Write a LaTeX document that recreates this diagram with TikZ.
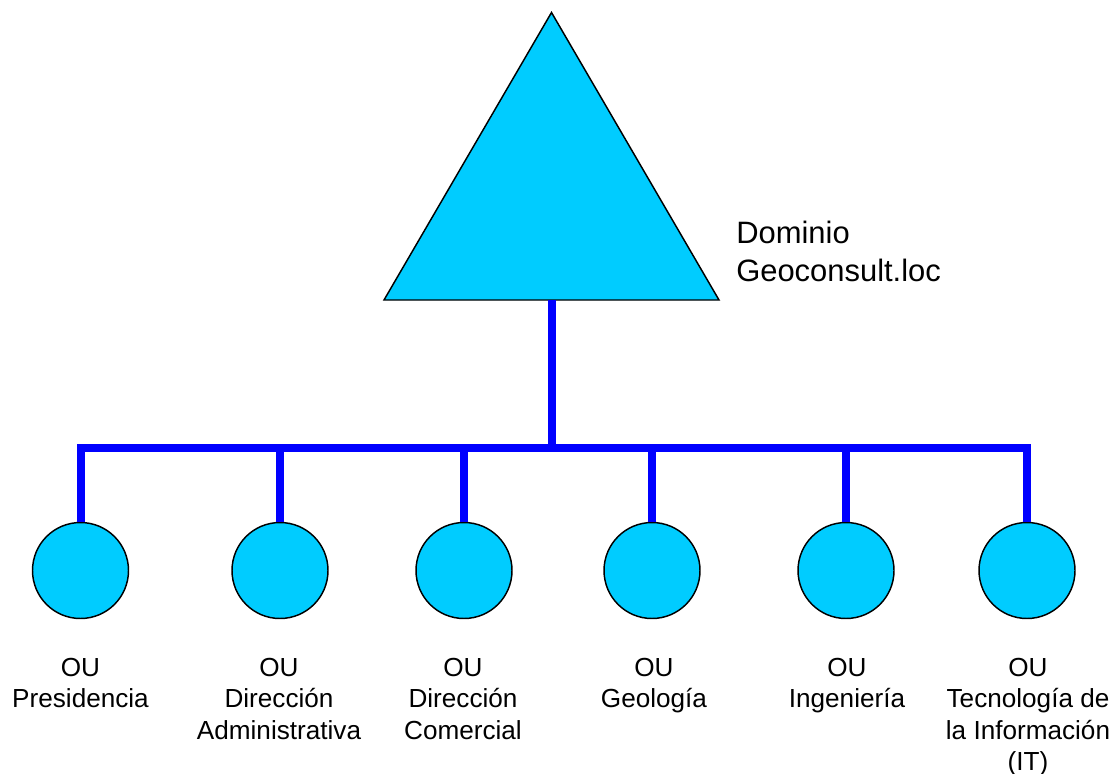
\documentclass[tikz,border=0pt]{standalone}
\usepackage{fontspec}
\setmainfont{Liberation Sans}
\definecolor{oufill}{HTML}{00CCFF}
\definecolor{busblue}{HTML}{0000FF}
\begin{document}
\begin{tikzpicture}[x=0.75pt,y=-0.75pt,
  ou/.style={circle,draw=black,fill=oufill,line width=1.1pt,minimum size=72pt,inner sep=0pt},
  bus/.style={draw=busblue,line width=6pt,line join=miter},
  oulabel/.style={anchor=north,inner sep=0pt,align=center,font=\fontsize{19.6}{23.6}\selectfont},
  domlabel/.style={anchor=north west,inner sep=0pt,align=left,font=\fontsize{23.2}{28.5}\selectfont}]
\useasboundingbox (0,0) rectangle (1117,774);
% domain triangle
\draw[fill=oufill,line width=1.1pt,line join=miter] (551.5,12.5) -- (719,300) -- (384,300) -- cycle;
\coordinate (dom) at (552,300);
\coordinate (bar) at (552,448);
\node[domlabel] (domtext) at (736,221) {Dominio\\Geoconsult.loc};
% OU circles
\node[ou] (o1) at (80.5,570.5) {};
\node[ou] (o2) at (280,570.5) {};
\node[ou] (o3) at (464,570.5) {};
\node[ou] (o4) at (652,570.5) {};
\node[ou] (o5) at (846,570.5) {};
\node[ou] (o6) at (1027,570.5) {};
% connectors
\draw[bus] (dom) -- (bar);
\draw[bus] (o1.north) -- (o1.north |- bar) -- (o6.north |- bar) -- (o6.north);
\draw[bus] (o2.north |- bar) -- (o2.north);
\draw[bus] (o3.north |- bar) -- (o3.north);
\draw[bus] (o4.north |- bar) -- (o4.north);
\draw[bus] (o5.north |- bar) -- (o5.north);
% labels
\node[oulabel] (l1) at (80.5,658) {OU\\Presidencia};
\node[oulabel] (l2) at (279,658) {OU\\Dirección\\Administrativa};
\node[oulabel] (l3) at (463,658) {OU\\Dirección\\Comercial};
\node[oulabel] (l4) at (654,658) {OU\\Geología};
\node[oulabel] (l5) at (847,658) {OU\\Ingeniería};
\node[oulabel] (l6) at (1028,658) {OU\\Tecnología de\\la Información\\(IT)};
\end{tikzpicture}
\end{document}
